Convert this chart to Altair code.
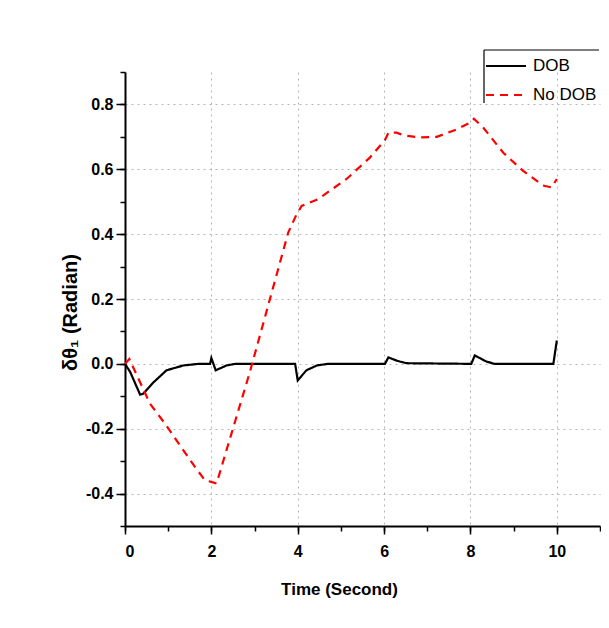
import altair as alt
import pandas as pd

# DOB (solid black)
dob_t = [0, 0.12, 0.35, 0.42, 0.66, 0.96, 1.35, 1.7, 1.97, 2.0, 2.1, 2.35, 2.55,
         3.94, 4.0, 4.2, 4.44, 4.7, 6.02, 6.1, 6.29, 6.52, 8.02, 8.1, 8.37, 8.56,
         9.92, 10.0]
dob_v = [0, -0.025, -0.095, -0.092, -0.057, -0.02, -0.005, 0, 0, 0.018, -0.02,
         -0.005, 0, 0, -0.051, -0.02, -0.005, 0, 0, 0.02, 0.01, 0.002, 0, 0.026,
         0.007, 0, 0, 0.072]

# No DOB (dashed red)
nodob_t = [0, 0.1, 0.42, 0.58, 0.93, 1.27, 1.62, 1.85, 2.0, 2.12, 2.89, 3.78,
           3.97, 4.09, 4.47, 5.13, 5.67, 6.02, 6.1, 6.29, 6.44, 6.83, 7.22, 7.68,
           7.99, 8.08, 8.3, 8.76, 9.22, 9.68, 9.88, 10.0]
nodob_v = [0, 0.015, -0.077, -0.123, -0.185, -0.251, -0.318, -0.359, -0.364,
           -0.369, -0.026, 0.405, 0.46, 0.487, 0.508, 0.57, 0.636, 0.69, 0.713,
           0.713, 0.705, 0.698, 0.70, 0.723, 0.744, 0.756, 0.728, 0.651, 0.595,
           0.55, 0.544, 0.57]

series_names = ["DOB", "No DOB"]
x_major = [0, 2, 4, 6, 8, 10]
x_minor = list(range(0, 12))
y_major = [-0.4, -0.2, 0.0, 0.2, 0.4, 0.6, 0.8]
y_minor = [round(-0.5 + 0.1 * i, 1) for i in range(15)]

df = pd.concat([
    pd.DataFrame({"t": dob_t, "v": dob_v, "series": series_names[0], "order": range(len(dob_t))}),
    pd.DataFrame({"t": nodob_t, "v": nodob_v, "series": series_names[1], "order": range(len(nodob_t))}),
], ignore_index=True)

FONT = "Liberation Sans"
xscale = alt.Scale(domain=[0, 11], nice=False, zero=False)
yscale = alt.Scale(domain=[-0.5, 0.9], nice=False, zero=False)

leg = alt.Legend(
    orient="none", legendX=360, legendY=-27, title=None, padding=0,
    symbolType="stroke", symbolSize=1600, symbolStrokeWidth=2,
    labelFont=FONT, labelFontSize=17, labelColor="black", labelOffset=6,
    rowPadding=-7,
)

lines = alt.Chart(df).mark_line(strokeWidth=2.2).encode(
    x=alt.X("t:Q", scale=xscale, axis=alt.Axis(
        values=x_major, orient="bottom", tickSize=8, tickWidth=1.5, tickColor="black",
        domainColor="black", domainWidth=2, grid=True, gridDash=[2, 4],
        gridColor="#b5b5b5", gridWidth=1, labelPadding=9,
        title="Time (Second)", titleX=214, titleY=68, titleBaseline="alphabetic",
        titleAlign="center", titleFontSize=17)),
    y=alt.Y("v:Q", scale=yscale, axis=alt.Axis(
        values=y_major, orient="left", tickSize=9, tickWidth=1.5,
        labelExpr="replace(format(datum.value, '.1f'), '\u2212', '-')",
        tickColor="black", domainColor="black", domainWidth=2, grid=True,
        gridDash=[2, 4], gridColor="#b5b5b5", gridWidth=1, labelPadding=3,
        title="δθ₁ (Radian)", titleX=-49, titleY=240, titleAngle=270,
        titleBaseline="alphabetic", titleAlign="center", titleFontSize=20)),
    color=alt.Color("series:N", scale=alt.Scale(domain=series_names, range=["black", "red"]), legend=leg),
    strokeDash=alt.StrokeDash("series:N", scale=alt.Scale(domain=series_names, range=[[1, 0], [8, 6]]), legend=leg),
    order="order:Q",
)

minor = alt.Chart(df).mark_line(opacity=0).encode(
    x=alt.X("t:Q", scale=xscale, axis=alt.Axis(
        values=x_minor, orient="bottom", labels=False, tickSize=5, tickWidth=1.5,
        tickColor="black", domain=False, grid=False, title=None)),
    y=alt.Y("v:Q", scale=yscale, axis=alt.Axis(
        values=y_minor, orient="left", labels=False, tickSize=5, tickWidth=1.5,
        tickColor="black", domain=False, grid=False, title=None)),
    detail="series:N",
)

one = pd.DataFrame({"a": [0]})
frame_top = alt.Chart(one).mark_rule(color="black", strokeWidth=1.2).encode(
    x=alt.value(359), x2=alt.value(474), y=alt.value(-22))
frame_left = alt.Chart(one).mark_rule(color="black", strokeWidth=1.2).encode(
    x=alt.value(359), y=alt.value(-22), y2=alt.value(31))

chart = alt.layer(minor, lines, frame_top, frame_left).resolve_axis(
    x="independent", y="independent"
).properties(
    width=475, height=454,
    autosize=alt.AutoSizeParams(type="none"),
    padding={"left": 117, "top": 64, "right": 1, "bottom": 86},
    background="white",
).configure_view(stroke=None).configure_axis(
    labelFont=FONT, labelFontWeight="bold", labelFontSize=16, labelColor="black",
    titleFont=FONT, titleFontWeight="bold", titleColor="black",
)

chart.save("out.html", embed_options={"renderer": "svg", "actions": False})
